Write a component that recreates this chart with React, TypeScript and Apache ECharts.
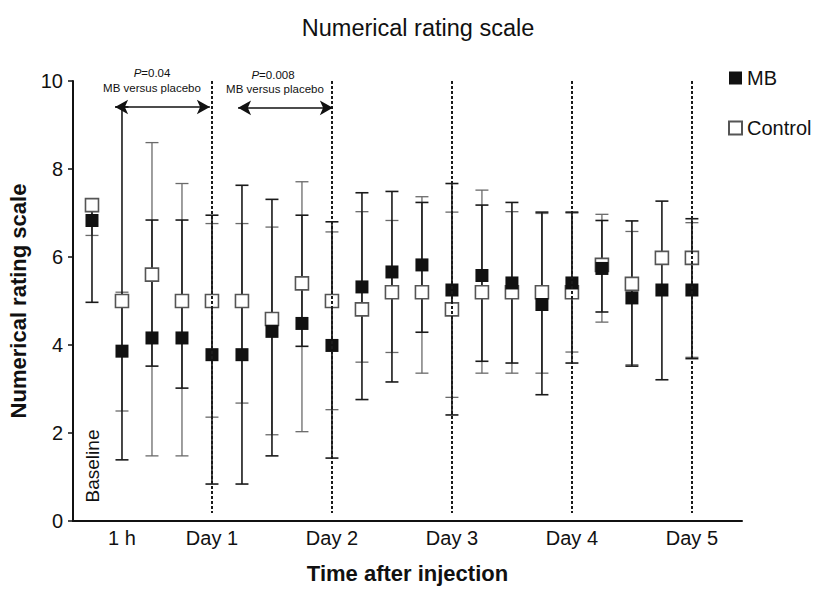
import React, { useEffect, useRef } from "react";
import * as echarts from "echarts";

// x positions are the sequential measurement indices (0 = baseline)
const xIndex = [0, 1, 2, 3, 4, 5, 6, 7, 8, 9, 10, 11, 12, 13, 14, 15, 16, 17, 18, 19, 20];
const tickLabelValues = [1, 4, 8, 12, 16, 20];
const tickLabels = ["1 h", "Day 1", "Day 2", "Day 3", "Day 4", "Day 5"];
const dayLineValues = [4, 8, 12, 16, 20];

const mbMean = [6.83, 3.86, 4.16, 4.16, 3.78, 3.78, 4.31, 4.49, 3.99, 5.32, 5.66, 5.82, 5.25, 5.58, 5.41, 4.92, 5.41, 5.74, 5.07, 5.25, 5.25];
const mbLow = [4.97, 1.39, 3.52, 3.02, 0.84, 0.84, 1.48, 3.97, 1.43, 2.76, 3.16, 4.29, 2.41, 3.63, 3.59, 2.87, 3.59, 4.75, 3.52, 3.21, 3.69];
const mbHigh = [7.22, 9.41, 6.84, 6.84, 6.95, 7.63, 7.31, 6.95, 6.8, 7.46, 7.49, 7.24, 7.67, 7.18, 7.24, 7.02, 7.02, 6.83, 6.82, 7.27, 6.87];

const ctrlMean = [7.18, 5.0, 5.6, 5.0, 5.0, 5.0, 4.59, 5.4, 5.0, 4.81, 5.2, 5.2, 4.81, 5.2, 5.2, 5.2, 5.2, 5.82, 5.39, 5.98, 5.98];
const ctrlLow = [6.49, 2.5, 1.48, 1.48, 2.36, 2.68, 1.96, 2.03, 2.53, 3.61, 3.83, 3.36, 2.81, 3.36, 3.36, 3.36, 3.84, 4.52, 3.55, null, 3.72];
const ctrlHigh = [7.25, 5.2, 8.6, 7.67, 6.76, 6.76, 6.68, 7.71, 6.57, 7.03, 6.83, 7.37, 7.02, 7.52, 7.03, 6.99, 7.0, 6.97, 6.58, null, 6.78];

// significance arrows: [xStart, xEnd, y]
const arrow1 = [0.77, 3.93, 9.41];
const arrow2 = [4.87, 8.03, 9.39];

const FONT = "'Liberation Sans', Arial, Helvetica, sans-serif";

function errorBarRender(color: string, width: number) {
  return (params: any, api: any) => {
    const low = api.value(1);
    const high = api.value(2);
    if (low == null || high == null || isNaN(low) || isNaN(high)) return null;
    const x = api.value(0);
    const pLow = api.coord([x, low]);
    const pHigh = api.coord([x, high]);
    const half = 6.5;
    const style = { stroke: color, lineWidth: width };
    return {
      type: "group",
      children: [
        { type: "line", shape: { x1: pLow[0], y1: pLow[1], x2: pHigh[0], y2: pHigh[1] }, style },
        { type: "line", shape: { x1: pLow[0] - half, y1: pLow[1], x2: pLow[0] + half, y2: pLow[1] }, style },
        { type: "line", shape: { x1: pHigh[0] - half, y1: pHigh[1], x2: pHigh[0] + half, y2: pHigh[1] }, style },
      ],
    };
  };
}

export default function App() {
  const ref = useRef<HTMLDivElement>(null);
  useEffect(() => {
    if (!ref.current) return;
    const chart = echarts.init(ref.current, undefined, { renderer: "svg" });
    const mbBars = xIndex.map((x, i) => [x, mbLow[i], mbHigh[i]]);
    const ctrlBars = xIndex.map((x, i) => [x, ctrlLow[i], ctrlHigh[i]]);
    const mbPts = xIndex.map((x, i) => [x, mbMean[i]]);
    const ctrlPts = xIndex.map((x, i) => [x, ctrlMean[i]]);

    const annot = (text: string, x: number, y: number, rich?: boolean) => ({
      type: "text",
      x,
      y,
      style: {
        text,
        rich: rich ? { i: { fontStyle: "italic", fontFamily: FONT, fontSize: 11.5, fill: "#111" } } : undefined,
        font: `11.5px ${FONT}`,
        fill: "#111",
        align: "center",
        verticalAlign: "middle",
      },
    });

    chart.setOption({
      animation: false,
      backgroundColor: "#ffffff",
      title: {
        text: "Numerical rating scale",
        left: 413,
        textAlign: "center",
        top: 11,
        textStyle: { fontFamily: FONT, fontSize: 23.5, fontWeight: "normal", color: "#111" },
      },
      legend: {
        orient: "vertical",
        left: 723,
        top: 63,
        itemWidth: 13,
        itemHeight: 13,
        itemGap: 30,
        textStyle: { fontFamily: FONT, fontSize: 20, color: "#111" },
        data: [
          { name: "MB", icon: "rect" },
          { name: "Control", icon: "rect" },
        ],
      },
      grid: { left: 73, right: 72, top: 81, bottom: 68, containLabel: false, outerBoundsMode: "none" },
      xAxis: {
        type: "value",
        min: -0.633,
        max: 21.67,
        splitLine: { show: false },
        axisLine: { show: true, onZero: false, lineStyle: { color: "#111", width: 2 } },
        axisTick: { show: false },
        axisLabel: {
          customValues: tickLabelValues,
          formatter: (v: number) => {
            const k = tickLabelValues.indexOf(Math.round(v));
            return k >= 0 ? tickLabels[k] : "";
          },
          fontFamily: FONT,
          fontSize: 20,
          color: "#111",
          margin: 7,
        },
        name: "Time after injection",
        nameLocation: "middle",
        nameGap: 41,
        nameTextStyle: { fontFamily: FONT, fontSize: 22, fontWeight: "bold", color: "#111" },
      },
      yAxis: {
        type: "value",
        min: 0,
        max: 10,
        interval: 2,
        splitLine: { show: false },
        axisLine: { show: true, onZero: false, lineStyle: { color: "#111", width: 2 } },
        axisTick: { show: true, length: 5, lineStyle: { color: "#111", width: 1.5 } },
        axisLabel: { fontFamily: FONT, fontSize: 20, color: "#111", margin: 10 },
        name: "Numerical rating scale",
        nameLocation: "middle",
        nameGap: 40,
        nameTextStyle: { fontFamily: FONT, fontSize: 22, fontWeight: "bold", color: "#111" },
      },
      series: [
        {
          name: "ctrlErr",
          type: "custom",
          renderItem: errorBarRender("#6a6a6a", 1.3),
          data: ctrlBars,
          z: 1,
          silent: true,
          markLine: {
            silent: true,
            symbol: ["none", "none"],
            label: { show: false },
            lineStyle: { color: "#1a1a1a", type: [3, 2], width: 2 },
            data: dayLineValues.map((v) => [
              { coord: [v, 10] },
              { coord: [v, 0.18] },
            ]),
          },
        },
        {
          name: "mbErr",
          type: "custom",
          renderItem: errorBarRender("#1a1a1a", 1.6),
          data: mbBars,
          z: 2,
          silent: true,
          markLine: {
            silent: true,
            symbol: ["arrow", "arrow"],
            symbolSize: [11, 13],
            label: { show: false },
            lineStyle: { color: "#111", type: "solid", width: 1.5 },
            data: [
              [{ coord: [arrow1[0], arrow1[2]] }, { coord: [arrow1[1], arrow1[2]] }],
              [{ coord: [arrow2[0], arrow2[2]] }, { coord: [arrow2[1], arrow2[2]] }],
            ],
          },
        },
        {
          name: "Control",
          type: "scatter",
          symbol: "rect",
          symbolSize: 13,
          data: ctrlPts,
          z: 3,
          itemStyle: { color: "#ffffff", borderColor: "#555", borderWidth: 1.6, opacity: 1 },
        },
        {
          name: "MB",
          type: "scatter",
          symbol: "rect",
          symbolSize: 13,
          data: mbPts,
          z: 4,
          itemStyle: { color: "#111111", opacity: 1 },
        },
      ],
      graphic: [
        annot("{i|P}=0.04", 152, 73, true),
        annot("MB versus placebo", 152, 87.5),
        annot("{i|P}=0.008", 273, 75, true),
        annot("MB versus placebo", 275, 89),
        {
          type: "text",
          x: 92.5,
          y: 466,
          rotation: Math.PI / 2,
          style: { text: "Baseline", font: `19px ${FONT}`, fill: "#111", align: "center", verticalAlign: "middle" },
        },
      ],
    });
    return () => chart.dispose();
  }, []);
  return <div ref={ref} style={{ position: "absolute", left: 0, top: 0, width: 814, height: 589 }} />;
}
